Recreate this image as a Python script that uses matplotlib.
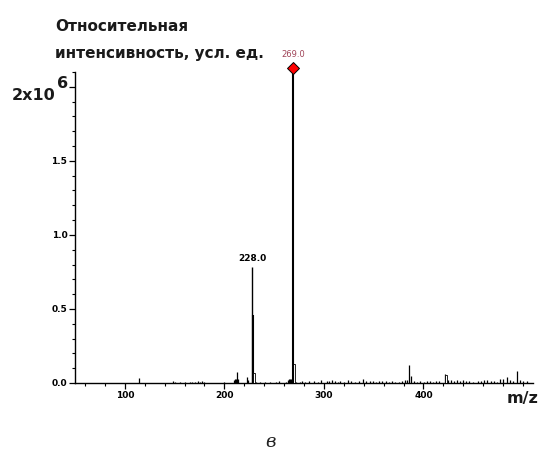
import matplotlib
matplotlib.use("Agg")
import matplotlib.pyplot as plt
from matplotlib.ticker import MultipleLocator, FixedLocator

# main peaks (m/z, relative intensity in units of 1e6)
main_mz = [269.0, 228.0]
main_int = [2.12, 0.78]
main_lw = [1.5, 1.0]
main_labels = ["269.0", "228.0"]

# secondary lines drawn thick
thick_mz = [228.3]
thick_int = [0.46]

# hollow (outlined) bars
hollow_mz = [229.6, 270.1, 422.6]
hollow_int = [0.07, 0.125, 0.055]

# small peaks / noise
small_mz = [114.5, 148.5, 150, 155, 160, 165, 168, 171, 174, 176, 178, 180,
            200, 210, 211, 212, 213, 214, 222.5, 223.5, 232, 236, 241, 246,
            252, 255, 262, 264, 265, 266, 267, 272, 276, 278, 281, 285, 290,
            294, 297, 303, 305, 308, 311, 314, 316, 320, 324, 327, 331, 335,
            339, 342, 346, 349, 352, 355, 358, 362, 365, 368, 371, 375, 378,
            381, 383, 385.5, 387, 390, 393, 397, 401, 404, 407, 410, 413, 416,
            421.8, 425, 428, 431, 434, 437, 440, 443, 446, 450, 455, 458, 461,
            464, 468, 471, 474, 477, 480, 484, 487, 490, 494, 497, 500, 504]
small_int = [0.035, 0.015, 0.008, 0.006, 0.005, 0.01, 0.008, 0.01, 0.012, 0.01,
             0.012, 0.008, 0.006, 0.02, 0.03, 0.03, 0.075, 0.03, 0.04, 0.02,
             0.01, 0.008, 0.008, 0.006, 0.01, 0.015, 0.01, 0.02, 0.025, 0.03,
             0.03, 0.01, 0.008, 0.015, 0.01, 0.015, 0.015, 0.01, 0.02, 0.015,
             0.012, 0.018, 0.015, 0.01, 0.012, 0.008, 0.022, 0.012, 0.01, 0.015,
             0.025, 0.012, 0.015, 0.012, 0.01, 0.013, 0.012, 0.015, 0.01, 0.012,
             0.008, 0.01, 0.012, 0.02, 0.022, 0.12, 0.05, 0.015, 0.01, 0.012,
             0.01, 0.015, 0.012, 0.01, 0.012, 0.015, 0.06, 0.02, 0.018, 0.015,
             0.02, 0.015, 0.018, 0.012, 0.015, 0.01, 0.015, 0.012, 0.02, 0.018,
             0.015, 0.012, 0.01, 0.025, 0.03, 0.04, 0.02, 0.015, 0.08, 0.02,
             0.015, 0.012]

x_major = [100, 200, 300, 400]
y_major = [0.0, 0.5, 1.0, 1.5]

fig = plt.figure(figsize=(5.42, 4.57), dpi=100)
ax = fig.add_axes([75 / 542, 1 - 383 / 457, (533 - 75) / 542, (383 - 72) / 457])

ax.vlines(small_mz, 0, small_int, colors="black", linewidth=0.9)
ax.vlines(thick_mz, 0, thick_int, colors="black", linewidth=1.5)
ax.bar(hollow_mz, hollow_int, width=1.6, facecolor="white", edgecolor="black",
       linewidth=0.6, zorder=3)
for mz, h, lw in zip(main_mz, main_int, main_lw):
    ax.vlines(mz, 0, h, colors="black", linewidth=lw, zorder=4)

# marker on base peak
ax.plot([main_mz[0]], [main_int[0] + 0.01], marker="D", markersize=6,
        markerfacecolor="red", markeredgecolor="black", markeredgewidth=0.7,
        clip_on=False, zorder=5)
ax.text(main_mz[0], main_int[0] + 0.07, main_labels[0], color="#a04458",
        fontsize=6, ha="center", va="bottom", family="DejaVu Sans",
        clip_on=False)
ax.text(main_mz[1], main_int[1] + 0.03, main_labels[1], color="black",
        fontsize=6.5, ha="center", va="bottom", fontweight="bold",
        family="Liberation Sans Narrow")

ax.set_xlim(50, 510)
ax.set_ylim(0, 2.1)

for s in ["top", "right"]:
    ax.spines[s].set_visible(False)
ax.spines["left"].set_linewidth(1.0)
ax.spines["bottom"].set_linewidth(1.0)

ax.xaxis.set_major_locator(FixedLocator(x_major))
ax.xaxis.set_minor_locator(MultipleLocator(20))
ax.yaxis.set_major_locator(FixedLocator(y_major + [2.0]))
ax.yaxis.set_minor_locator(MultipleLocator(0.1))
ax.set_xticklabels([str(v) for v in x_major])
ax.set_yticklabels(["%.1f" % v for v in y_major] + [""])
ax.tick_params(which="major", length=4, width=0.9, pad=1.5)
ax.tick_params(which="minor", length=2.5, width=0.8)
for lab in ax.get_xticklabels() + ax.get_yticklabels():
    lab.set_fontfamily("Liberation Sans Narrow")
    lab.set_fontweight("bold")
    lab.set_fontsize(6.5)

# texts
tfont = dict(family="DejaVu Sans", fontweight="bold", color="#1a1a1a")
fig.text(55 / 542, 1 - 31 / 457, "Относительная", fontsize=11, va="baseline",
         ha="left", **tfont)
fig.text(55 / 542, 1 - 58 / 457, "интенсивность, усл. ед.", fontsize=11,
         va="baseline", ha="left", **tfont)
fig.text(12 / 542, 1 - 100 / 457, "2x10", fontsize=11.5, va="baseline",
         ha="left", **tfont)
fig.text(57 / 542, 1 - 88 / 457, "6", fontsize=11.5, va="baseline",
         ha="left", **tfont)
fig.text(538 / 542, 1 - 403 / 457, "m/z", fontsize=11.5, va="baseline",
         ha="right", **tfont)
fig.text(270 / 542, 1 - 447 / 457, "в", fontsize=13, va="baseline",
         ha="center", family="DejaVu Serif", style="italic", color="#222222")

fig.savefig("out.png", dpi=100)
